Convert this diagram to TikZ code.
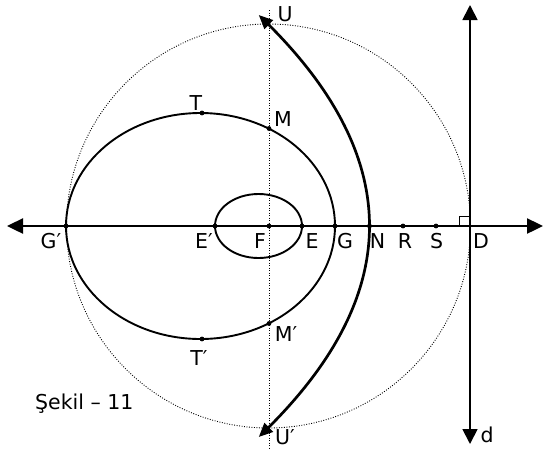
\documentclass[tikz,border=0pt]{standalone}
\usepackage{fontspec}
\setmainfont{DejaVu Sans}
\usetikzlibrary{arrows.meta}
\begin{document}
\begin{tikzpicture}[x=1pt,y=-1pt,
  lbl/.style={inner sep=0pt,anchor=base,font=\fontsize{20.5}{24}\selectfont},
  bigtip/.tip={Triangle[length=16pt,width=15pt]},
  midtip/.tip={Triangle[length=14pt,width=12pt]},
  dtip/.tip={Triangle[length=15pt,width=15pt]}]
\useasboundingbox (0,0) rectangle (543,448);
% points
\coordinate (F) at (269,226);
\coordinate (Gp) at (66,226);
\coordinate (Ep) at (215,226);
\coordinate (E) at (302,226);
\coordinate (G) at (335,226);
\coordinate (N) at (369.5,226);
\coordinate (R) at (403,226);
\coordinate (S) at (436,226);
\coordinate (D) at (470,226);
\coordinate (T) at (202,113);
\coordinate (Tp) at (202,339);
\coordinate (M) at (269,128.5);
\coordinate (Mp) at (269,323.5);
% dotted circle and dotted vertical line
\draw[line width=0.9pt,dash pattern=on 0.9pt off 1.6pt] (268.5,226) circle [radius=202pt];
\draw[line width=0.9pt,dash pattern=on 0.9pt off 1.6pt] (269,10) -- (269,448);
% ellipses
\draw[line width=1.9pt] (258.5,226) ellipse [x radius=43.5pt, y radius=32pt];
\draw[line width=1.9pt] (200.5,226) ellipse [x radius=134.5pt, y radius=113pt];
% axis
\draw[line width=2.4pt,{bigtip}-{bigtip}] (7,226) -- (543,226);
% directrix d
\draw[line width=1.8pt,{dtip}-{dtip}] (470,5) -- (470,444);
\draw[line width=0.7pt] (459,226) -- (459,216) -- (470,216);
% parabola
\draw[line width=2.7pt,{midtip}-{midtip}] plot[domain=-211:211,samples=120,variable=\t] ({369.5-(\t/20)*(\t/20.1)},{226+\t});
% dots
\foreach \p in {F,Gp,Ep,E,G,N,R,S,T,Tp,M,Mp}
  \fill (\p) circle [radius=2.4pt];
% labels
\node[lbl] (lGp) at (51,248) {G′};
\node[lbl] (lEp) at (204,248) {E′};
\node[lbl] (lF) at (260,248) {F};
\node[lbl] (lE) at (312,248) {E};
\node[lbl] (lG) at (345,248) {G};
\node[lbl] (lN) at (377.5,248) {N};
\node[lbl] (lR) at (405,248) {R};
\node[lbl] (lS) at (436.5,248) {S};
\node[lbl] (lD) at (481,248) {D};
\node[lbl] (lT) at (196,110) {T};
\node[lbl] (lTp) at (199,365) {T′};
\node[lbl] (lM) at (283,126) {M};
\node[lbl] (lMp) at (286,341.5) {M′};
\node[lbl] (lU) at (285,21.5) {U};
\node[lbl] (lUp) at (285,444) {U′};
\node[lbl] (ld) at (487,442) {d};
\node[lbl,anchor=base west] (cap) at (35,409) {Şekil – 11};
\end{tikzpicture}
\end{document}
